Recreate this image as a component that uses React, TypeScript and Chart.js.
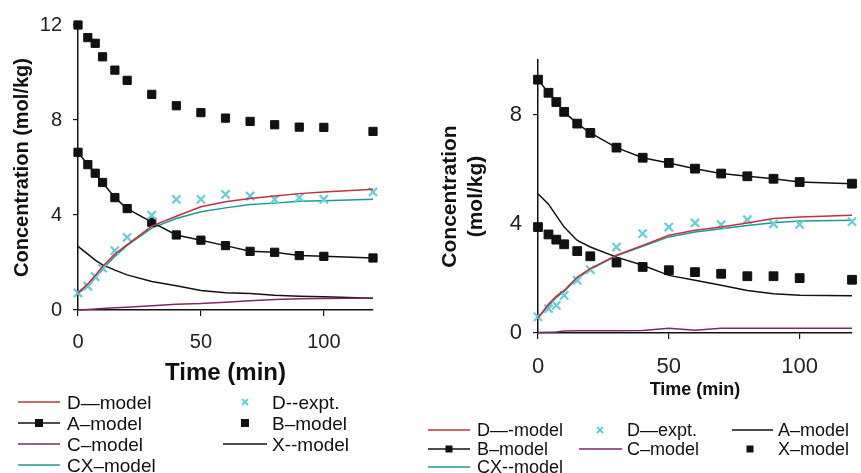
import React, { useEffect, useRef } from "react";
import { Chart, registerables } from "chart.js";

Chart.register(...registerables);

// ---------- data ----------
const times = [0, 4, 7, 10, 15, 20, 30, 40, 50, 60, 70, 80, 90, 100, 120];
const xTicks = [0, 50, 100];

// left panel
const leftYTicks = [0, 4, 8, 12];
const leftYMax = 12;
const leftDModel = [0.72, 1.1, 1.45, 1.83, 2.35, 2.75, 3.53, 3.95, 4.35, 4.56, 4.69, 4.8, 4.9, 4.97, 5.08];
const leftDExpt = [0.72, 1.0, 1.4, 1.76, 2.5, 3.06, 3.99, 4.66, 4.66, 4.87, 4.8, 4.66, 4.73, 4.66, 4.97];
const leftAModel = [6.64, 6.12, 5.76, 5.37, 4.73, 4.27, 3.7, 3.16, 2.94, 2.71, 2.47, 2.43, 2.29, 2.26, 2.19];
const leftBModel = [12.0, 11.47, 11.23, 10.66, 10.1, 9.67, 9.08, 8.6, 8.31, 8.08, 7.94, 7.8, 7.7, 7.69, 7.52];
const leftCModel = [0, 0.02, 0.04, 0.06, 0.09, 0.12, 0.18, 0.24, 0.27, 0.33, 0.39, 0.44, 0.47, 0.48, 0.5];
const leftXModel = [2.68, 2.35, 2.1, 1.9, 1.68, 1.48, 1.2, 1.02, 0.82, 0.73, 0.69, 0.62, 0.58, 0.56, 0.49];
const leftCXModel = [0.7, 1.0, 1.35, 1.72, 2.26, 2.72, 3.45, 3.85, 4.14, 4.3, 4.44, 4.5, 4.58, 4.6, 4.66];

// right panel
const rightYTicks = [0, 4, 8];
const rightYMax = 10;
const rightDModel = [0.55, 1.05, 1.35, 1.56, 2.05, 2.36, 2.85, 3.21, 3.58, 3.76, 3.88, 4.03, 4.19, 4.25, 4.31];
const rightDExpt = [0.59, 0.89, 1.01, 1.38, 1.93, 2.32, 3.15, 3.64, 3.88, 4.03, 3.97, 4.15, 4.0, 3.98, 4.08];
const rightAModel = [5.1, 4.72, 4.3, 3.88, 3.39, 3.15, 2.78, 2.48, 2.11, 1.93, 1.75, 1.56, 1.44, 1.38, 1.36];
const rightBModel = [9.28, 8.8, 8.46, 8.1, 7.67, 7.33, 6.79, 6.42, 6.23, 6.02, 5.84, 5.74, 5.65, 5.53, 5.47];
const rightCModel = [0.02, 0.03, 0.04, 0.07, 0.08, 0.08, 0.08, 0.09, 0.17, 0.1, 0.17, 0.17, 0.17, 0.17, 0.17];
const rightXModel = [3.88, 3.61, 3.42, 3.25, 3.0, 2.81, 2.58, 2.42, 2.3, 2.23, 2.17, 2.08, 2.08, 2.01, 1.95];
const rightCXModel = [0.55, 1.0, 1.3, 1.52, 2.0, 2.33, 2.83, 3.18, 3.52, 3.7, 3.82, 3.94, 4.04, 4.1, 4.13];

// ---------- styles ----------
const FONT = "'Liberation Sans', Arial, sans-serif";
const RED = "#c3303f";
const PURPLE = "#7a2b66";
const TEAL = "#1a9b95";
const CYAN = "#66cddb";
const BLACK = "#111111";

type Kind = "line" | "lineRect" | "rect" | "cross";

function ds(label: string, vals: number[], kind: Kind, color: string, r: number) {
  const pts = times.map((t, i) => ({ x: t, y: vals[i] }));
  const base: any = {
    label,
    data: pts,
    borderColor: color,
    backgroundColor: color,
    borderWidth: 1.5,
    tension: 0,
    fill: false,
    clip: false,
    pointHoverRadius: 0,
  };
  if (kind === "line") return { ...base, pointRadius: 0, showLine: true };
  if (kind === "lineRect")
    return { ...base, showLine: true, pointStyle: "rect", pointRadius: r, pointBackgroundColor: color, pointBorderColor: color, pointBorderWidth: 1 };
  if (kind === "rect")
    return { ...base, showLine: false, pointStyle: "rect", pointRadius: r, pointBackgroundColor: color, pointBorderColor: color, pointBorderWidth: 1 };
  return { ...base, showLine: false, pointStyle: "crossRot", pointRadius: 5.8, pointBorderColor: color, pointBorderWidth: 2.2 };
}

type PanelCfg = {
  width: number;
  height: number;
  padding: { left: number; top: number; right: number; bottom: number };
  yWidth: number;
  xHeight: number;
  yMax: number;
  yTicks: number[];
  tickSize: number;
  yTitle: string | string[];
  yTitleSize: number;
  yTitleLH: number;
  yTitlePadTop: number;
  xTitleSize: number;
  xTitlePadBottom: number;
  xTickPad: number;
  datasets: any[];
};

function buildConfig(c: PanelCfg): any {
  return {
    type: "line",
    data: { datasets: c.datasets },
    options: {
      animation: false,
      responsive: false,
      events: [],
      layout: { padding: c.padding },
      plugins: { legend: { display: false }, tooltip: { enabled: false } },
      scales: {
        x: {
          type: "linear",
          min: 0,
          max: 120,
          afterBuildTicks: (a: any) => {
            a.ticks = xTicks.map((v) => ({ value: v }));
          },
          afterFit: (a: any) => {
            a.height = c.xHeight;
          },
          grid: { display: true, drawOnChartArea: false, drawTicks: true, tickLength: 6, color: BLACK, lineWidth: 1.2 },
          border: { display: true, color: BLACK, width: 1.5 },
          ticks: { color: "#222", font: { family: FONT, size: c.tickSize }, padding: c.xTickPad, maxRotation: 0 },
          title: {
            display: true,
            text: "Time (min)",
            color: BLACK,
            font: { family: FONT, size: c.xTitleSize, weight: "bold" },
            padding: { top: 0, bottom: c.xTitlePadBottom },
          },
        },
        y: {
          type: "linear",
          min: 0,
          max: c.yMax,
          afterBuildTicks: (a: any) => {
            a.ticks = c.yTicks.map((v) => ({ value: v }));
          },
          afterFit: (a: any) => {
            a.width = c.yWidth;
          },
          grid: { display: true, drawOnChartArea: false, drawTicks: true, tickLength: 5, color: BLACK, lineWidth: 1.2 },
          border: { display: true, color: BLACK, width: 1.5 },
          ticks: { color: "#222", font: { family: FONT, size: c.tickSize }, padding: 11 },
          title: {
            display: true,
            text: c.yTitle,
            color: BLACK,
            font: { family: FONT, size: c.yTitleSize, weight: "bold", lineHeight: c.yTitleLH },
            padding: { top: c.yTitlePadTop, bottom: 0 },
          },
        },
      },
    },
  };
}

const leftCfg: PanelCfg = {
  width: 420,
  height: 395,
  padding: { left: 0, top: 25, right: 47, bottom: 0 },
  yWidth: 78,
  xHeight: 85,
  yMax: leftYMax,
  yTicks: leftYTicks,
  tickSize: 20,
  yTitle: "Concentration (mol/kg)",
  yTitleSize: 20,
  yTitleLH: 1.2,
  yTitlePadTop: 10,
  xTitleSize: 24,
  xTitlePadBottom: 7,
  xTickPad: 14,
  datasets: [
    ds("D—model", leftDModel, "line", RED, 0),
    ds("D--expt.", leftDExpt, "cross", CYAN, 0),
    ds("A–model", leftAModel, "lineRect", BLACK, 5.8),
    ds("B–model", leftBModel, "rect", BLACK, 5.8),
    ds("C–model", leftCModel, "line", PURPLE, 0),
    ds("X--model", leftXModel, "line", BLACK, 0),
    ds("CX–model", leftCXModel, "line", TEAL, 0),
  ],
};

const rightCfg: PanelCfg = {
  width: 441,
  height: 410,
  padding: { left: 0, top: 60, right: 9, bottom: 0 },
  yWidth: 118,
  xHeight: 77,
  yMax: rightYMax,
  yTicks: rightYTicks,
  tickSize: 22,
  yTitle: ["Concentration", "(mol/kg)"],
  yTitleSize: 21,
  yTitleLH: 1.25,
  yTitlePadTop: 17,
  xTitleSize: 18,
  xTitlePadBottom: 9,
  xTickPad: 15,
  datasets: [
    ds("D—-model", rightDModel, "line", RED, 0),
    ds("D—expt.", rightDExpt, "cross", CYAN, 0),
    ds("A–model", rightAModel, "line", BLACK, 0),
    ds("B–model", rightBModel, "lineRect", BLACK, 6.2),
    ds("C–model", rightCModel, "line", PURPLE, 0),
    ds("X–model", rightXModel, "rect", BLACK, 6.2),
    ds("CX--model", rightCXModel, "line", TEAL, 0),
  ],
};

// ---------- legend ----------
type LegendItem = { label: string; kind: Kind; color: string; sx: number; sw: number; tx: number; y: number };

const leftLegendRows = [402, 423, 444, 465];
const rightLegendRows = [430, 449, 467];

const leftLegend: LegendItem[] = [
  { label: "D—model", kind: "line", color: RED, sx: 18, sw: 42, tx: 67, y: leftLegendRows[0] },
  { label: "D--expt.", kind: "cross", color: CYAN, sx: 235, sw: 20, tx: 272, y: leftLegendRows[0] },
  { label: "A–model", kind: "lineRect", color: BLACK, sx: 18, sw: 42, tx: 67, y: leftLegendRows[1] },
  { label: "B–model", kind: "rect", color: BLACK, sx: 235, sw: 20, tx: 272, y: leftLegendRows[1] },
  { label: "C–model", kind: "line", color: PURPLE, sx: 18, sw: 42, tx: 67, y: leftLegendRows[2] },
  { label: "X--model", kind: "line", color: BLACK, sx: 223, sw: 44, tx: 272, y: leftLegendRows[2] },
  { label: "CX–model", kind: "line", color: TEAL, sx: 18, sw: 42, tx: 67, y: leftLegendRows[3] },
];

const rightLegend: LegendItem[] = [
  { label: "D—-model", kind: "line", color: RED, sx: 428, sw: 42, tx: 477, y: rightLegendRows[0] },
  { label: "D—expt.", kind: "cross", color: CYAN, sx: 590, sw: 20, tx: 627, y: rightLegendRows[0] },
  { label: "A–model", kind: "line", color: BLACK, sx: 732, sw: 41, tx: 778, y: rightLegendRows[0] },
  { label: "B–model", kind: "lineRect", color: BLACK, sx: 428, sw: 42, tx: 477, y: rightLegendRows[1] },
  { label: "C–model", kind: "line", color: PURPLE, sx: 579, sw: 43, tx: 627, y: rightLegendRows[1] },
  { label: "X–model", kind: "rect", color: BLACK, sx: 740, sw: 20, tx: 778, y: rightLegendRows[1] },
  { label: "CX--model", kind: "line", color: TEAL, sx: 428, sw: 42, tx: 477, y: rightLegendRows[2] },
];

function Sample({ it, sq }: { it: LegendItem; sq: number }) {
  const h = 12;
  const cx = it.sw / 2;
  const cy = h / 2;
  return (
    <svg width={it.sw} height={h} style={{ position: "absolute", left: it.sx, top: it.y - h / 2 }}>
      {(it.kind === "line" || it.kind === "lineRect") && (
        <line x1={0} y1={cy} x2={it.sw} y2={cy} stroke={it.color} strokeWidth={1.5} />
      )}
      {(it.kind === "rect" || it.kind === "lineRect") && (
        <rect x={cx - sq / 2} y={cy - sq / 2} width={sq} height={sq} fill={it.color} />
      )}
      {it.kind === "cross" && (
        <g stroke={it.color} strokeWidth={2}>
          <line x1={cx - 3} y1={cy - 3} x2={cx + 3} y2={cy + 3} />
          <line x1={cx - 3} y1={cy + 3} x2={cx + 3} y2={cy - 3} />
        </g>
      )}
    </svg>
  );
}

function Legend({ items, size, sq }: { items: LegendItem[]; size: number; sq: number }) {
  return (
    <>
      {items.map((it, i) => (
        <React.Fragment key={i}>
          <Sample it={it} sq={sq} />
          <span
            style={{
              position: "absolute",
              left: it.tx,
              top: it.y,
              transform: "translateY(-50%)",
              fontFamily: FONT,
              fontSize: size,
              lineHeight: 1,
              color: BLACK,
              whiteSpace: "nowrap",
            }}
          >
            {it.label}
          </span>
        </React.Fragment>
      ))}
    </>
  );
}

function Panel({ cfg, left }: { cfg: PanelCfg; left: number }) {
  const ref = useRef<HTMLCanvasElement | null>(null);
  useEffect(() => {
    if (!ref.current) return;
    const chart = new Chart(ref.current, buildConfig(cfg));
    return () => chart.destroy();
  }, [cfg]);
  return (
    <canvas
      ref={ref}
      width={cfg.width}
      height={cfg.height}
      style={{ position: "absolute", left, top: 0, width: cfg.width, height: cfg.height }}
    />
  );
}

export default function App() {
  return (
    <div
      style={{
        position: "absolute",
        left: 0,
        top: 0,
        width: 861,
        height: 473,
        background: "#ffffff",
        overflow: "hidden",
      }}
    >
      <Panel cfg={leftCfg} left={0} />
      <Panel cfg={rightCfg} left={420} />
      <Legend items={leftLegend} size={19} sq={8} />
      <Legend items={rightLegend} size={18} sq={7} />
    </div>
  );
}
